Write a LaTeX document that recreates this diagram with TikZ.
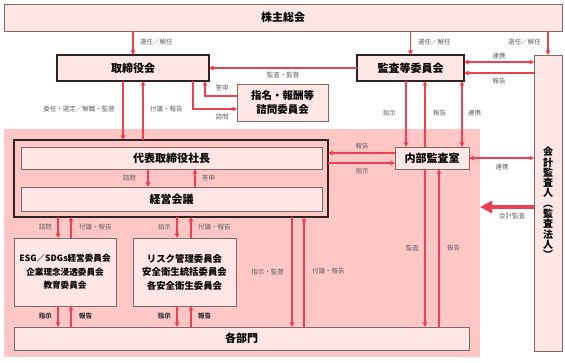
\documentclass[tikz,border=0pt]{standalone}
\usepackage{fontspec}
\setmainfont{Noto Sans CJK JP}
\usetikzlibrary{arrows.meta,calc}
\definecolor{arrred}{RGB}{240,62,82}
\definecolor{boxfill}{RGB}{253,230,228}
\definecolor{regionpink}{RGB}{255,198,198}
\definecolor{boxline}{RGB}{125,105,105}
\definecolor{darkline}{RGB}{45,35,35}
\definecolor{lblgray}{RGB}{95,95,95}
\begin{document}
\begin{tikzpicture}[x=1pt,y=-1pt,
 box/.style={draw=boxline, fill=boxfill, line width=0.9pt, inner sep=0pt, outer sep=0pt, align=center, font=\bfseries\fontsize{11}{13}\selectfont},
 boxd/.style={box, draw=darkline, line width=1.4pt},
 arr/.style={draw=arrred, line width=1.6pt, -{Triangle[length=4.5pt,width=4.5pt]}},
 darr/.style={draw=arrred, line width=1.6pt, {Triangle[length=4.5pt,width=4.5pt]}-{Triangle[length=4.5pt,width=4.5pt]}},
 bigarr/.style={draw=arrred, line width=4.5pt, -{Triangle[length=12pt,width=12pt]}},
 lbl/.style={text=lblgray, font=\fontsize{6.5}{7}\selectfont, inner sep=0pt},
 lblb/.style={lbl, text=black!80, font=\bfseries\fontsize{6.5}{7}\selectfont},
]
\useasboundingbox (0,0) rectangle (565,363);
\fill[white] (0,0) rectangle (565,363);

% background region
\node[fill=regionpink, inner sep=0pt, outer sep=0pt, minimum width=476pt, minimum height=228pt] (region) at (242,243) {};

% boxes
\node[box, minimum width=558pt, minimum height=27pt] (kabu) at (283,17.5) {株主総会};
\node[boxd, minimum width=152pt, minimum height=26pt] (tori) at (133,68) {取締役会};
\node[boxd, minimum width=107pt, minimum height=26pt] (kansa) at (410.5,68) {監査等委員会};
\node[box, minimum width=28pt, minimum height=296pt, font=\bfseries\fontsize{10}{10.3}\selectfont] (kaikei) at (548,203) {会\\計\\監\\査\\人\\︵\\監\\査\\法\\人\\︶};
\node[box, minimum width=91pt, minimum height=37pt, font=\bfseries\fontsize{10.5}{14}\selectfont] (shimei) at (282.5,102.5) {指名・報酬等\\諮問委員会};
\node[draw=darkline, line width=1.4pt, inner sep=0pt, outer sep=0pt, minimum width=314pt, minimum height=77pt] (grp) at (171,178.5) {};
\node[box, minimum width=301pt, minimum height=22pt] (pres) at (171.5,158) {代表取締役社長};
\node[box, minimum width=301pt, minimum height=24pt] (keiei) at (171.5,199) {経営会議};
\node[box, minimum width=74pt, minimum height=22pt] (naibu) at (432,158) {内部監査室};
\node[box, minimum width=102pt, minimum height=68pt, font=\bfseries\fontsize{8.6}{13.5}\selectfont] (esg) at (65,272) {ESG／SDGs経営委員会\\企業理念浸透委員会\\教育委員会};
\node[box, minimum width=103pt, minimum height=68pt, font=\bfseries\fontsize{9.4}{13.5}\selectfont] (risk) at (184.5,272) {リスク管理委員会\\安全衛生統括委員会\\各安全衛生委員会};
\node[box, minimum width=455pt, minimum height=23pt] (bumon) at (241.5,338.5) {各部門};

% top arrows
\draw[arr] (kabu.south -| tori.north) -- (tori.north);
\node[lbl, anchor=west] (l1) at (140,42) {選任／解任};
\draw[arr] (kabu.south -| kansa.north) -- (kansa.north);
\node[lbl, anchor=west] (l2) at (418,42) {選任／解任};
\draw[arr] (kabu.south -| kaikei.north) -- (kaikei.north);
\node[lbl, anchor=east] (l3) at (541,42) {選任／解任};

% kansa - kaikei
\draw[darr] ([yshift=6pt]kansa.east) -- ([yshift=6pt]kansa.east -| kaikei.west);
\node[lbl] (l4) at (499,56) {連携};
\draw[arr] ([yshift=-5pt]kansa.east -| kaikei.west) -- ([yshift=-5pt]kansa.east);
\node[lbl] (l5) at (499,81) {報告};

% kansa -> tori
\draw[arr] (kansa.west) -- (tori.east);
\node[lbl] (l6) at (283,75.5) {監査・監督};

% tori <-> shimei
\draw[arr] ([yshift=6.5pt]shimei.west) -| ([xshift=72pt]tori.south);
\node[lbl] (l7) at (222,88) {答申};
\draw[arr] ([xshift=60pt]tori.south) |- ([yshift=-6.5pt]shimei.west);
\node[lbl] (l8) at (222,117) {諮問};

% tori <-> grp
\draw[arr] ([xshift=-10pt]tori.south) -- ([xshift=-10pt]tori.south |- grp.north);
\node[lbl, anchor=east] (l9) at (115,109) {委任・選定／解職・監督};
\draw[arr] ([xshift=10pt]tori.south |- grp.north) -- ([xshift=10pt]tori.south);
\node[lbl, anchor=west] (l10) at (150,109) {付議・報告};

% pres <-> keiei
\draw[arr] ([xshift=-23.5pt]pres.south) -- ([xshift=-23.5pt]keiei.north);
\node[lbl, anchor=east] (l11) at (136,178) {諮問};
\draw[arr] ([xshift=23.5pt]keiei.north) -- ([xshift=23.5pt]pres.south);
\node[lbl, anchor=west] (l12) at (202,178) {答申};

% naibu <-> grp
\draw[arr] ([yshift=5pt]naibu.west) -- ([yshift=5pt]naibu.west -| grp.east);
\node[lbl] (l13) at (362,146) {報告};
\draw[arr] ([yshift=-5pt]naibu.west -| grp.east) -- ([yshift=-5pt]naibu.west);
\node[lbl] (l14) at (362,171) {指示};

% naibu <-> kaikei
\draw[darr] (naibu.east) -- (naibu.east -| kaikei.west);
\node[lbl] (l15) at (502,167) {連携};
\draw[bigarr] ([yshift=-4pt]kaikei.west) -- ([yshift=-4pt]kaikei.west -| region.east);
\node[lbl] (l16) at (512,216.5) {会計監査};

% kansa <-> naibu
\draw[arr] ([xshift=-4.5pt]kansa.south) -- ([xshift=-4.5pt]kansa.south |- naibu.north);
\node[lbl, anchor=east] (l17) at (396,113) {指示};
\draw[arr] ([xshift=14.5pt]kansa.south |- naibu.north) -- ([xshift=14.5pt]kansa.south);
\node[lbl, anchor=west] (l18) at (433,113) {報告};
\draw[darr] ([xshift=51.5pt]kansa.south) -- ([xshift=51.5pt]kansa.south |- naibu.north);
\node[lbl, anchor=west] (l19) at (468,113) {連携};

% naibu <-> bumon
\draw[arr] ([xshift=-7pt]naibu.south) -- ([xshift=-7pt]naibu.south |- bumon.north);
\node[lbl, anchor=east] (l20) at (419,248) {監査};
\draw[arr] ([xshift=7pt]naibu.south |- bumon.north) -- ([xshift=7pt]naibu.south);
\node[lbl, anchor=west] (l21) at (447,248) {報告};

% grp <-> bumon
\draw[arr] ([xshift=121pt]grp.south) -- ([xshift=121pt]grp.south |- bumon.north);
\node[lbl, anchor=east] (l22) at (284,272) {指示・監督};
\draw[arr] ([xshift=133pt]grp.south |- bumon.north) -- ([xshift=133pt]grp.south);
\node[lbl, anchor=west] (l23) at (312,271) {付議・報告};

% grp <-> committees
\draw[arr] ([xshift=-7pt]esg.north |- grp.south) -- ([xshift=-7pt]esg.north);
\node[lbl, anchor=east] (l24) at (52,227) {諮問};
\draw[arr] ([xshift=6pt]esg.north) -- ([xshift=6pt]esg.north |- grp.south);
\node[lbl, anchor=west] (l25) at (79,227) {付議・報告};
\draw[arr] ([xshift=-7.5pt]risk.north |- grp.south) -- ([xshift=-7.5pt]risk.north);
\node[lbl, anchor=east] (l26) at (171,227) {指示};
\draw[arr] ([xshift=6.5pt]risk.north) -- ([xshift=6.5pt]risk.north |- grp.south);
\node[lbl, anchor=west] (l27) at (198,227) {付議・報告};

% committees <-> bumon
\draw[arr] ([xshift=-7pt]esg.south) -- ([xshift=-7pt]esg.south |- bumon.north);
\node[lblb, anchor=east] (l28) at (52,316) {指示};
\draw[arr] ([xshift=6pt]esg.south |- bumon.north) -- ([xshift=6pt]esg.south);
\node[lblb, anchor=west] (l29) at (79,316) {報告};
\draw[arr] ([xshift=-7.5pt]risk.south) -- ([xshift=-7.5pt]risk.south |- bumon.north);
\node[lblb, anchor=east] (l30) at (171,316) {指示};
\draw[arr] ([xshift=6.5pt]risk.south |- bumon.north) -- ([xshift=6.5pt]risk.south);
\node[lblb, anchor=west] (l31) at (198,316) {報告};
\end{tikzpicture}
\end{document}
